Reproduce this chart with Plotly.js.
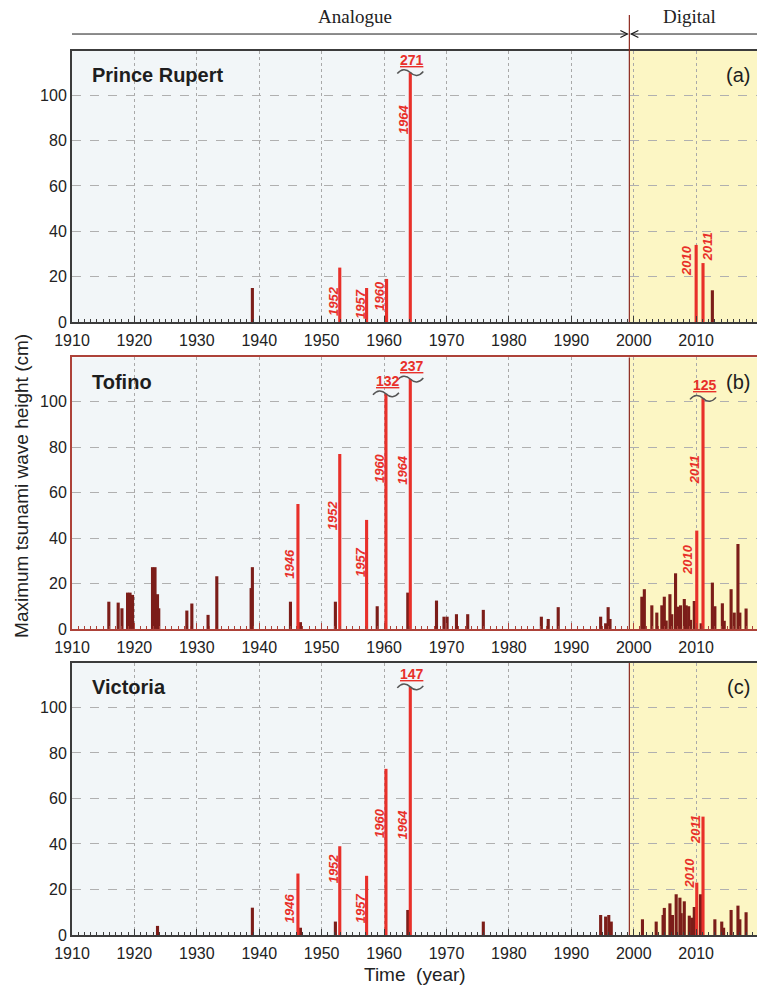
<!DOCTYPE html>
<html>
<head>
<meta charset="utf-8">
<script src="https://cdn.plot.ly/plotly-3.0.1.min.js"></script>
<style>
  html, body { margin: 0; padding: 0; background: #ffffff; overflow: hidden; }
  #chart { width: 757px; height: 991px; }
</style>
</head>
<body>
<div id="chart"></div>
<script>
// ---- Station records: maximum tsunami wave height (cm) by time (decimal year) ----

// Prince Rupert
const prMinorYears   = [1938.9, 2012.6];
const prMinorHeights = [15, 14];
const prEventYears   = [1952.9, 1957.2, 1960.4, 1964.2, 2010.0, 2011.1];
const prEventHeights = [24, 15, 19, 271, 34, 26];
const prEventLabels  = ['1952', '1957', '1960', '1964', '2010', '2011'];

// Tofino
const toMinorYears = [1915.9, 1917.4, 1918.0, 1918.9, 1919.3, 1919.7, 1922.9, 1923.3, 1923.7, 1923.9,
  1928.4, 1929.2, 1931.8, 1933.2, 1938.7, 1938.9, 1945.0, 1946.6, 1952.2, 1958.9, 1963.8,
  1968.4, 1969.6, 1970.1, 1971.6, 1973.4, 1975.9, 1985.2, 1986.3, 1987.9, 1994.7, 1995.5, 1995.9, 1996.2,
  2001.3, 2001.7, 2002.9, 2003.7, 2004.5, 2004.9, 2005.2, 2005.8, 2006.1, 2006.7, 2007.0, 2007.5,
  2008.1, 2008.4, 2008.8, 2009.1, 2009.7, 2010.8, 2012.6, 2013.0, 2014.2, 2014.5, 2015.6, 2016.1,
  2016.7, 2017.0, 2018.0];
const toMinorHeights = [12, 11.6, 9.1, 16, 16, 15, 27.2, 27.2, 15.3, 9.1,
  8.1, 11.2, 6.2, 23.2, 18, 27.2, 12, 3, 12, 10, 16,
  12.5, 5.4, 5.4, 6.5, 6.5, 8.4, 5.4, 4.4, 9.6, 5.4, 2.5, 9.6, 4.4,
  14.2, 17.5, 10.4, 7.2, 10.4, 14.2, 3.7, 15.3, 6.5, 24.5, 9.8, 10.4,
  13.2, 10.4, 10, 4, 12.3, 2.5, 20.4, 10, 11.3, 3.6, 17.5, 7.2,
  37.4, 7.2, 9];
const toEventYears   = [1946.2, 1952.9, 1957.2, 1960.3, 1964.2, 2010.1, 2011.1];
const toEventHeights = [55, 77, 48, 132, 237, 43.3, 125];
const toEventLabels  = ['1946', '1952', '1957', '1960', '1964', '2010', '2011'];

// Victoria
const viMinorYears = [1923.7, 1938.9, 1946.6, 1952.2, 1963.8, 1975.9, 1994.7, 1995.5, 1996.0, 1996.4,
  2001.4, 2003.6, 2004.7, 2004.9, 2005.8, 2006.2, 2006.8, 2007.4, 2007.6, 2008.1, 2008.9, 2009.3,
  2009.7, 2010.7, 2013.0, 2014.1, 2014.4, 2015.6, 2016.7, 2017.0, 2018.0];
const viMinorHeights = [4, 12, 3.2, 5.9, 11, 5.9, 8.8, 8.1, 8.8, 5.9,
  6.9, 5.9, 8.8, 11.9, 13.9, 8.8, 17.9, 16.4, 9.6, 14.8, 8.5, 7.6,
  12.3, 17.9, 6.9, 5.9, 3.2, 11, 12.9, 6.9, 10];
const viEventYears   = [1946.2, 1952.9, 1957.2, 1960.3, 1964.2, 2010.1, 2011.1];
const viEventHeights = [27, 39, 26, 73, 147, 23, 52];
const viEventLabels  = ['1946', '1952', '1957', '1960', '1964', '2010', '2011'];

const xTickYears = [1910, 1920, 1930, 1940, 1950, 1960, 1970, 1980, 1990, 2000, 2010];
const yTickValues = [0, 20, 40, 60, 80, 100];

// ---- Presentation settings ----
const X_RANGE = [1910, 2019.75];
const Y_RANGE = [0, 119.5];
const DIGITAL_START = 1999.3;   // switch from analogue to digital tide gauges

// Heights at which off-scale bars are broken (axis break), per event
const prBreakAt = [null, null, null, 110, null, null];
const toBreakAt = [null, null, null, 103.5, 110, null, 101.5];
const viBreakAt = [null, null, null, null, 109, null, null];

// Rotated year labels: centre height (cm) and horizontal pixel offset from the bar
const prLabelY  = [9.4, 7.9, 11.6, 89.4, 27, 33];
const prLabelDx = [-6.5, -6.7, -6.5, -7.4, -9, 4];
const toLabelY  = [28.9, 50.2, 29.4, 70.8, 70, 30.4, 70];
const toLabelDx = [-8.5, -6.5, -6.7, -7, -7.4, -8.6, -7.7];
const viLabelY  = [11.7, 29.4, 11.7, 49.2, 48.5, 27.2, 46.3];
const viLabelDx = [-9, -6.5, -6.7, -7, -7.4, -7.3, -7.7];

const FONT = 'Liberation Sans, Arial, Helvetica, sans-serif';
const SERIF = 'Liberation Serif, Times New Roman, serif';
const RED = '#e8302a';
const DARK = '#7c1d19';
const ANALOG_BG = '#f2f6f8';
const DIGITAL_BG = '#fcf6c4';
const BAR_W = 0.5;

const panels = [
  { name: 'Prince Rupert', tag: '(a)', xa: 'x',  ya: 'y',  border: '#3c3c3c', domain: [0.6934, 1.0],
    minorX: prMinorYears, minorY: prMinorHeights, evX: prEventYears, evY: prEventHeights,
    evLab: prEventLabels, brk: prBreakAt, labY: prLabelY, labDx: prLabelDx },
  { name: 'Tofino', tag: '(b)', xa: 'x2', ya: 'y2', border: '#ad4239', domain: [0.3462, 0.6533],
    minorX: toMinorYears, minorY: toMinorHeights, evX: toEventYears, evY: toEventHeights,
    evLab: toEventLabels, brk: toBreakAt, labY: toLabelY, labDx: toLabelDx },
  { name: 'Victoria', tag: '(c)', xa: 'x3', ya: 'y3', border: '#3c3c3c', domain: [0.0, 0.3077],
    minorX: viMinorYears, minorY: viMinorHeights, evX: viEventYears, evY: viEventHeights,
    evLab: viEventLabels, brk: viBreakAt, labY: viLabelY, labDx: viLabelDx }
];

const traces = [];
const shapes = [];
const annotations = [];
const layout = {
  width: 757, height: 991,
  margin: { l: 72, r: 0, t: 51, b: 56 },
  paper_bgcolor: '#ffffff',
  plot_bgcolor: ANALOG_BG,
  showlegend: false,
  barmode: 'overlay',
  font: { family: FONT, color: '#222222' },
  shapes: shapes,
  annotations: annotations
};

panels.forEach((p, i) => {
  const idx = i === 0 ? '' : String(i + 1);
  // displayed height: off-scale bars are cut at their break level
  const shown = p.evY.map((v, k) => (p.brk[k] !== null && v > p.brk[k]) ? p.brk[k] : v);

  traces.push({
    type: 'bar', x: p.minorX, y: p.minorY, width: BAR_W,
    xaxis: p.xa, yaxis: p.ya, marker: { color: DARK, line: { width: 0 } },
    hoverinfo: 'x+y'
  });
  traces.push({
    type: 'bar', x: p.evX, y: shown, width: BAR_W,
    xaxis: p.xa, yaxis: p.ya, marker: { color: RED, line: { width: 0 } },
    customdata: p.evY, hovertemplate: '%{x}: %{customdata} cm<extra></extra>'
  });

  layout['xaxis' + idx] = {
    anchor: p.ya, domain: [0, 1], range: X_RANGE,
    tickmode: 'array', tickvals: xTickYears, ticktext: xTickYears.map(String),
    ticks: 'inside', ticklen: 6, tickwidth: 1, tickcolor: p.border,
    ticklabelstandoff: 3,
    showline: true, linecolor: p.border, linewidth: 2, mirror: true,
    showgrid: true, gridcolor: '#a9a9a9', griddash: 'dot', gridwidth: 1,
    zeroline: false,
    tickfont: { family: FONT, size: 16, color: '#222222' },
    minor: { ticks: 'inside', dtick: 1, tick0: 1910, ticklen: 3, tickwidth: 1, tickcolor: p.border, showgrid: false },
    fixedrange: true
  };
  layout['yaxis' + idx] = {
    anchor: p.xa, domain: p.domain, range: Y_RANGE,
    tickmode: 'array', tickvals: yTickValues, ticktext: yTickValues.map(String),
    ticks: '', showline: true, linecolor: p.border, linewidth: 2, mirror: false,
    showgrid: true, gridcolor: '#b0b0b0', griddash: 'dash', gridwidth: 1,
    zeroline: false,
    tickfont: { family: FONT, size: 16, color: '#222222' },
    fixedrange: true
  };

  // digital-era background and boundary line
  shapes.push({
    type: 'rect', layer: 'below', xref: p.xa, yref: p.ya + ' domain',
    x0: DIGITAL_START, x1: X_RANGE[1] + 1, y0: 0, y1: 1,
    fillcolor: DIGITAL_BG, line: { width: 0 }
  });
  shapes.push({
    type: 'line', layer: 'above', xref: p.xa, yref: p.ya + ' domain',
    x0: DIGITAL_START, x1: DIGITAL_START, y0: 0, y1: 1,
    line: { color: '#8e2a20', width: 1.2 }
  });

  // panel titles
  annotations.push({
    xref: p.xa + ' domain', yref: p.ya + ' domain', x: 0.027, y: 0.91,
    xanchor: 'left', yanchor: 'middle', showarrow: false,
    text: '<b>' + p.name + '</b>', font: { family: FONT, size: 20, color: '#1e1e1e' }
  });
  annotations.push({
    xref: p.xa + ' domain', yref: p.ya + ' domain', x: 0.992, y: 0.91,
    xanchor: 'right', yanchor: 'middle', showarrow: false,
    text: p.tag, font: { family: FONT, size: 20, color: '#1e1e1e' }
  });

  // rotated year labels next to the major events
  p.evX.forEach((yr, k) => {
    annotations.push({
      xref: p.xa, yref: p.ya, x: yr, y: p.labY[k], xshift: p.labDx[k],
      xanchor: 'center', yanchor: 'middle', showarrow: false, textangle: -90,
      text: '<b><i>' + p.evLab[k] + '</i></b>', font: { family: FONT, size: 13, color: RED }
    });
  });

  // axis-break marks on off-scale bars with their true value
  p.evX.forEach((yr, k) => {
    if (p.brk[k] === null || p.evY[k] <= p.brk[k]) return;
    shapes.push({
      type: 'path', layer: 'above', xref: p.xa, yref: p.ya,
      xsizemode: 'pixel', ysizemode: 'pixel', xanchor: yr, yanchor: shown[k],
      path: 'M-13,-1 C-9,4 -4,4 0,0 C4,-4 9,-4 13,1',
      line: { color: '#555555', width: 1.5 }
    });
    annotations.push({
      xref: p.xa, yref: p.ya, x: yr, y: shown[k], xshift: 2, yshift: 3,
      xanchor: 'center', yanchor: 'bottom', showarrow: false,
      text: '<b><u>' + p.evY[k] + '</u></b>', font: { family: FONT, size: 14, color: RED }
    });
  });
});

// analogue / digital period header
const digitalFrac = (DIGITAL_START - X_RANGE[0]) / (X_RANGE[1] - X_RANGE[0]);
const HEADER_Y = 1.0192;
shapes.push({ type: 'line', xref: 'paper', yref: 'paper', x0: 0, x1: digitalFrac - 0.003,
  y0: HEADER_Y, y1: HEADER_Y, line: { color: '#1a1a1a', width: 1 } });
shapes.push({ type: 'line', xref: 'paper', yref: 'paper', x0: digitalFrac + 0.003, x1: 1,
  y0: HEADER_Y, y1: HEADER_Y, line: { color: '#1a1a1a', width: 1 } });
shapes.push({ type: 'path', xref: 'paper', yref: 'paper', xsizemode: 'pixel', ysizemode: 'pixel',
  xanchor: digitalFrac, yanchor: HEADER_Y, path: 'M-9,3.5 L-2,0 L-9,-3.5', line: { color: '#1a1a1a', width: 1.3 } });
shapes.push({ type: 'path', xref: 'paper', yref: 'paper', xsizemode: 'pixel', ysizemode: 'pixel',
  xanchor: digitalFrac, yanchor: HEADER_Y, path: 'M9,3.5 L2,0 L9,-3.5', line: { color: '#1a1a1a', width: 1.3 } });
shapes.push({ type: 'line', xref: 'paper', yref: 'paper', x0: digitalFrac, x1: digitalFrac,
  y0: 1.0, y1: 1.0407, line: { color: '#8e2a20', width: 1.2 } });

annotations.push({ xref: 'paper', yref: 'paper', x: 0.413, y: 1.0385, xanchor: 'center', yanchor: 'middle',
  showarrow: false, text: 'Analogue', font: { family: SERIF, size: 19, color: '#222222' } });
annotations.push({ xref: 'paper', yref: 'paper', x: 0.902, y: 1.0385, xanchor: 'center', yanchor: 'middle',
  showarrow: false, text: 'Digital', font: { family: SERIF, size: 19, color: '#222222' } });

// shared axis titles
annotations.push({ xref: 'paper', yref: 'paper', x: -0.073, y: 0.508, xanchor: 'center', yanchor: 'middle',
  textangle: -90, showarrow: false, text: 'Maximum tsunami wave height (cm)',
  font: { family: FONT, size: 19, color: '#222222' } });
annotations.push({ xref: 'paper', yref: 'paper', x: 0.5, y: -0.045, xanchor: 'center', yanchor: 'middle',
  showarrow: false, text: 'Time\u00a0 (year)', font: { family: FONT, size: 19, color: '#222222' } });

Plotly.newPlot('chart', traces, layout, { displayModeBar: false, staticPlot: true });
</script>
</body>
</html>
